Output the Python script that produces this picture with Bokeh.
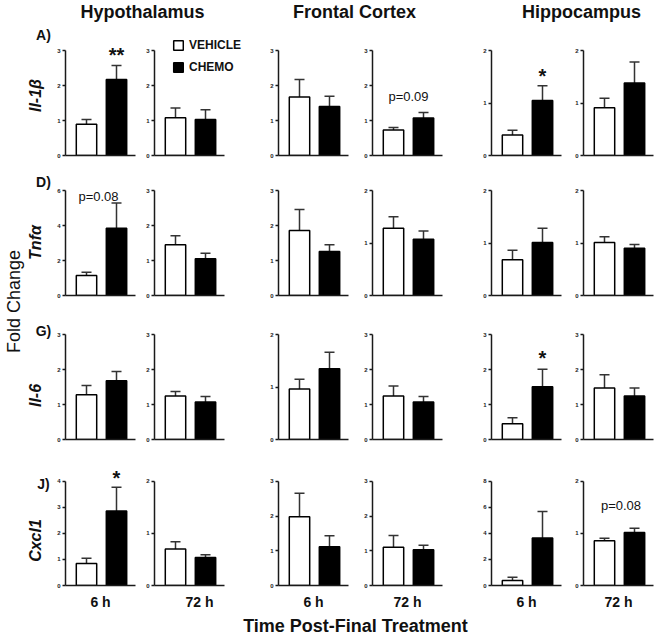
from math import pi
from bokeh.plotting import figure
from bokeh.layouts import row, column
from bokeh.models import (Range1d, FixedTicker, Label, Whisker, TeeHead,
                          ColumnDataSource, Legend, LegendItem)
from bokeh.embed import file_html
from bokeh.resources import INLINE

# ---------------- data ----------------
regions = ["Hypothalamus", "Frontal Cortex", "Hippocampus"]
genes = ["Il-1β", "Tnfα", "Il-6", "Cxcl1"]
times = ["6 h", "72 h"]
groups = ["VEHICLE", "CHEMO"]
letters = [["A)", "B)", "C)"], ["D)", "E)", "F)"], ["G)", "H)", "I)"], ["J)", "K)", "L)"]]

# rows = genes; columns = Hyp 6h, Hyp 72h, FC 6h, FC 72h, Hip 6h, Hip 72h
vehicle_mean = [
    [0.89, 1.08, 1.67, 0.73, 0.39, 0.91],
    [1.14, 1.45, 1.86, 1.28, 0.68, 1.01],
    [1.28, 1.24, 0.96, 1.24, 0.45, 1.47],
    [0.85, 0.70, 1.98, 1.10, 0.38, 0.86],
]
vehicle_upper = [
    [1.03, 1.36, 2.17, 0.80, 0.48, 1.09],
    [1.33, 1.71, 2.46, 1.50, 0.86, 1.12],
    [1.54, 1.37, 1.15, 1.53, 0.62, 1.85],
    [1.05, 0.84, 2.66, 1.44, 0.64, 0.91],
]
chemo_mean = [
    [2.17, 1.03, 1.40, 1.07, 1.05, 1.38],
    [3.85, 1.05, 1.26, 1.07, 1.01, 0.90],
    [1.68, 1.07, 1.35, 1.07, 1.51, 1.24],
    [2.86, 0.54, 1.12, 1.03, 3.65, 1.02],
]
chemo_upper = [
    [2.57, 1.31, 1.69, 1.23, 1.33, 1.78],
    [5.28, 1.21, 1.45, 1.23, 1.28, 0.97],
    [1.94, 1.23, 1.66, 1.23, 2.01, 1.47],
    [3.77, 0.59, 1.43, 1.16, 5.69, 1.10],
]
y_max = [
    [3, 3, 3, 3, 2, 2],
    [6, 3, 3, 2, 2, 2],
    [3, 3, 2, 3, 3, 3],
    [4, 2, 3, 3, 8, 2],
]
y_step = [
    [1, 1, 1, 1, 1, 1],
    [2, 1, 1, 1, 1, 1],
    [1, 1, 1, 1, 1, 1],
    [1, 1, 1, 1, 2, 1],
]
# (row, col, text, x, y)
stats = [
    (0, 0, "**", 2.0, 2.86),
    (0, 3, "p=0.09", 1.5, 1.70),
    (0, 4, "*", 2.0, 1.52),
    (1, 0, "p=0.08", 1.4, 5.66),
    (2, 4, "*", 2.0, 2.34),
    (3, 0, "*", 2.0, 4.13),
    (3, 5, "p=0.08", 1.55, 1.54),
]

# ---------------- geometry / style ----------------
FONT = "Liberation Sans"
FW, FH = 70, 105
PX_PER_X = 30.0
X0 = 0.3
col_lb = [13, 14, 34, 20, 47, 18]
col_rb = [5, 20, 4, 2, 4, 2]
row_tb = [26, 25, 29, 32]
row_bb = [10, 10, 10, 26]
# frames are enlarged (axes keep their bounds) so legend / marks above the axes fit
extra_top = [12, 0, 0, 14]
extra_right = [0, 20, 0, 0, 0, 0]
letter_dx = {2: -22.5, 4: -34}
letter_dy = [[121, 118], [112, 112], [106, 107], [104, 104]]
AXC = "#1a1a1a"
TXT = "#111111"

panels_rows = []
for r in range(4):
    figs = []
    for c in range(6):
        w = col_lb[c] + FW + col_rb[c]
        h = row_tb[r] + FH + row_bb[r]
        tb = row_tb[r] - extra_top[r]
        rb = col_rb[c] - extra_right[c]
        fh = FH + extra_top[r]
        fw = FW + extra_right[c]
        ypx = FH / y_max[r][c]
        p = figure(width=w, height=h, output_backend="svg", toolbar_location=None,
                   x_range=Range1d(X0, X0 + fw / PX_PER_X),
                   y_range=Range1d(0, fh / ypx),
                   min_border_left=col_lb[c], min_border_right=rb,
                   min_border_top=tb, min_border_bottom=row_bb[r])
        p.outline_line_color = None
        p.grid.visible = False
        p.background_fill_color = "white"
        p.border_fill_color = "white"

        src = ColumnDataSource(dict(
            x=[1, 2],
            top=[vehicle_mean[r][c], chemo_mean[r][c]],
            upper=[vehicle_upper[r][c], chemo_upper[r][c]],
            color=["white", "black"],
            group=groups,
        ))
        wh = Whisker(source=src, base="x", lower="top", upper="upper",
                     line_color="#333333", line_width=1.5, lower_head=None,
                     upper_head=TeeHead(size=10, line_color="#333333", line_width=1.5))
        p.add_layout(wh)
        bars = p.vbar(x="x", top="top", width=0.68, source=src,
                      fill_color="color", line_color="black", line_width=1.5)

        ya = p.yaxis[0]
        ya.bounds = (0, y_max[r][c])
        ya.ticker = FixedTicker(ticks=list(range(0, y_max[r][c] + 1, y_step[r][c])))
        ya.major_label_text_font_size = "6px"
        ya.major_label_text_font_style = "bold"
        ya.major_label_text_font = FONT
        ya.major_label_text_color = "#222222"
        ya.major_label_standoff = 2
        ya.major_tick_out = 3
        ya.major_tick_in = 0
        ya.minor_tick_out = 0
        ya.minor_tick_in = 0
        ya.axis_line_width = 1.5
        ya.axis_line_color = AXC
        ya.major_tick_line_width = 1.5
        ya.major_tick_line_color = AXC

        xa = p.xaxis[0]
        xa.bounds = (X0, X0 + FW / PX_PER_X)
        xa.ticker = FixedTicker(ticks=[])
        xa.major_tick_out = 0
        xa.major_tick_in = 0
        xa.minor_tick_out = 0
        xa.minor_tick_in = 0
        xa.major_label_standoff = 0
        xa.axis_line_width = 1.5
        xa.axis_line_color = AXC
        if r == 3:
            xa.axis_label = times[c % 2]
            xa.axis_label_text_font = FONT
            xa.axis_label_text_font_size = "14px"
            xa.axis_label_text_font_style = "bold"
            xa.axis_label_text_color = TXT
            xa.axis_label_standoff = 8

        if c in (2, 4):
            p.add_layout(Label(x=letter_dx[c], y=letter_dy[r][0 if c == 2 else 1],
                               x_units="screen", y_units="screen", text=letters[r][c // 2],
                               text_font=FONT, text_font_size="14px", text_font_style="bold",
                               text_align="center", text_baseline="middle", text_color=TXT))

        for (sr, sc, txt, sx, sy) in stats:
            if sr == r and sc == c:
                star = txt.startswith("*")
                p.add_layout(Label(x=sx, y=sy, text=txt, text_font=FONT,
                                   text_font_size="20px" if star else "13px",
                                   text_font_style="bold" if star else "normal",
                                   text_align="center", text_baseline="alphabetic",
                                   text_color=TXT))

        if r == 0 and c == 1:
            leg = Legend(items=[LegendItem(label=groups[0], renderers=[bars], index=0),
                                LegendItem(label=groups[1], renderers=[bars], index=1)],
                         location=(18, 81), glyph_width=12, glyph_height=12,
                         label_height=12, spacing=8, padding=0, margin=0,
                         label_standoff=5, border_line_color=None,
                         background_fill_alpha=0,
                         label_text_font=FONT, label_text_font_size="12px",
                         label_text_font_style="bold", label_text_color=TXT)
            p.add_layout(leg)
        figs.append(p)
    panels_rows.append(row(*figs, spacing=0))

grid = column(*panels_rows, spacing=0)
grid_h = sum(row_tb[r] + FH + row_bb[r] for r in range(4))

# ---------------- left strip ----------------
STRIP_W = 52
strip = figure(width=STRIP_W, height=grid_h, output_backend="svg", toolbar_location=None,
               x_range=Range1d(0, STRIP_W), y_range=Range1d(0, grid_h), min_border=0)
strip.axis.visible = False
strip.grid.visible = False
strip.outline_line_color = None
strip.add_layout(Label(x=13, y=311, text="Fold Change", angle=pi / 2, text_font=FONT,
                       text_font_size="18px", text_align="center", text_baseline="middle",
                       text_color=TXT))
gene_y = [517, 370, 217, 72]
for g, gy in zip(genes, gene_y):
    strip.add_layout(Label(x=35, y=gy, text=g, angle=pi / 2, text_font=FONT,
                           text_font_size="16px", text_font_style="bold italic",
                           text_align="center", text_baseline="middle", text_color=TXT))
letter_y = [578, 431, 282, 129]
for r in range(4):
    strip.add_layout(Label(x=43, y=letter_y[r], text=letters[r][0], text_font=FONT,
                           text_font_size="14px", text_font_style="bold",
                           text_align="center", text_baseline="middle", text_color=TXT))

# ---------------- header / footer ----------------
TOT_W = STRIP_W + sum(col_lb[c] + FW + col_rb[c] for c in range(6))
HEAD_H, FOOT_H = 24, 24
header = figure(width=TOT_W, height=HEAD_H, output_backend="svg", toolbar_location=None,
                x_range=Range1d(0, TOT_W), y_range=Range1d(0, HEAD_H), min_border=0)
header.axis.visible = False
header.grid.visible = False
header.outline_line_color = None
for reg, hx in zip(regions, [142, 354, 581]):
    header.add_layout(Label(x=hx, y=13, text=reg, text_font=FONT, text_font_size="18px",
                            text_font_style="bold", text_align="center",
                            text_baseline="middle", text_color=TXT))

footer = figure(width=TOT_W, height=FOOT_H, output_backend="svg", toolbar_location=None,
                x_range=Range1d(0, TOT_W), y_range=Range1d(0, FOOT_H), min_border=0)
footer.axis.visible = False
footer.grid.visible = False
footer.outline_line_color = None
footer.add_layout(Label(x=355, y=11, text="Time Post-Final Treatment", text_font=FONT,
                        text_font_size="18px", text_font_style="bold", text_align="center",
                        text_baseline="middle", text_color=TXT))

layout = column(header, row(strip, grid, spacing=0), footer, spacing=0)

open("out.html", "w").write(file_html(layout, INLINE))
